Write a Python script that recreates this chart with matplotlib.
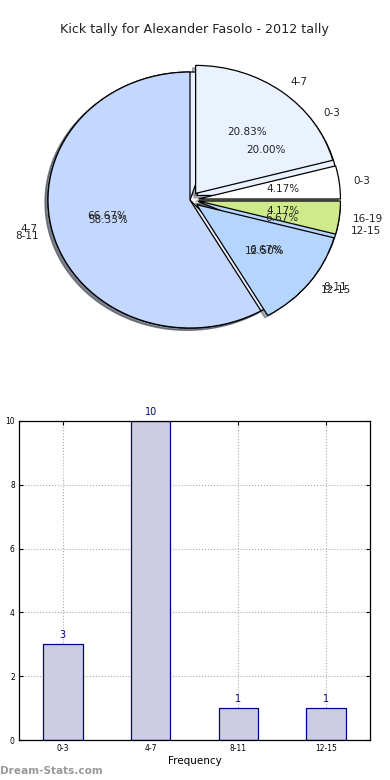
import matplotlib
matplotlib.use("Agg")
import matplotlib.pyplot as plt
import numpy as np

# ---- data ----
TITLE = "Kick tally for Alexander Fasolo - 2012 tally"

# front pie (drawn last)
front_labels = ["4-7", "0-3", "16-19", "12-15", "8-11"]
front_values = [5, 1, 1, 3, 14]
front_colors = ["#EAF2FF", "#FFFFFF", "#CFEA8A", "#B5D5FF", "#C4D8FF"]
front_explode = [0.065, 0.06, 0.06, 0.06, 0.0]

# back pie (drawn first, mostly hidden)
back_labels = ["0-3", "12-15", "8-11", "4-7"]
back_values = [3, 1, 1, 10]
back_colors = ["#EAF2FF", "#B5D5FF", "#C4D8FF", "#EAF2FF"]
back_explode = [0.06, 0.06, 0.06, 0.0]

# bar chart
bar_cats = ["0-3", "4-7", "8-11", "12-15"]
bar_counts = [3, 10, 1, 1]

W, H = 390, 780
fig = plt.figure(figsize=(W / 100, H / 100), dpi=100)
fig.patch.set_facecolor("white")


def px_axes(left, top, width, height):
    return fig.add_axes([left / W, 1 - (top + height) / H, width / W, height / H])


fig.text(194 / W, 1 - 30 / H, TITLE, ha="center", va="center", fontsize=9.2, color="#222222")

# ---- pie ----
rx, ry = 142, 128  # unit radius in px (pie is slightly squashed)
cx, cy = 190, 200
lim = 1.35
axp = px_axes(cx - lim * rx, cy - lim * ry, 2 * lim * rx, 2 * lim * ry)
wedge_kw = dict(edgecolor="black", linewidth=0.9)
shadow_kw = dict(ox=-0.015, oy=-0.013, shade=0.6)
axp.pie(back_values, labels=back_labels, colors=back_colors, explode=back_explode,
        startangle=72, counterclock=False, autopct="%1.2f%%", shadow=shadow_kw,
        wedgeprops=wedge_kw, textprops=dict(fontsize=7.5, color="#222222"))
axp.pie(front_values, labels=front_labels, colors=front_colors, explode=front_explode,
        startangle=90, counterclock=False, autopct="%1.2f%%", shadow=shadow_kw,
        wedgeprops=wedge_kw, textprops=dict(fontsize=7.5, color="#222222"))
axp.set_aspect("auto")
axp.set_xlim(-lim, lim)
axp.set_ylim(-lim, lim)
axp.axis("off")

# ---- bar chart ----
axb = px_axes(19, 421, 351, 319)
x = np.arange(len(bar_cats))
axb.bar(x, bar_counts, width=0.45, color="#CCCCE5", edgecolor="#00008B",
        linewidth=0.9, zorder=2)
for xi, v in zip(x, bar_counts):
    axb.text(xi, v + 0.12, str(v), ha="center", va="bottom", fontsize=7, color="#00008B")
axb.set_xlim(-0.5, 3.5)
axb.set_ylim(0, 10)
axb.set_xticks(x)
axb.set_xticklabels(bar_cats)
axb.set_yticks(range(0, 11, 2))
axb.tick_params(labelsize=5.5, direction="in", top=True, right=True, length=3, pad=3)
axb.grid(True, ls=":", color="#AAAAAA", lw=0.8, zorder=0)
axb.set_axisbelow(True)
axb.set_xlabel("Frequency", fontsize=7.5, labelpad=2)
axb.set_ylabel("Distribution", fontsize=7.5, labelpad=8)
for s in axb.spines.values():
    s.set_linewidth(0.9)

fig.text(0 / W, 1 - 771 / H, "Dream-Stats.com", ha="left", va="center",
         fontsize=7.6, color="#999999", fontweight="bold")

fig.savefig("out.png", dpi=100)
